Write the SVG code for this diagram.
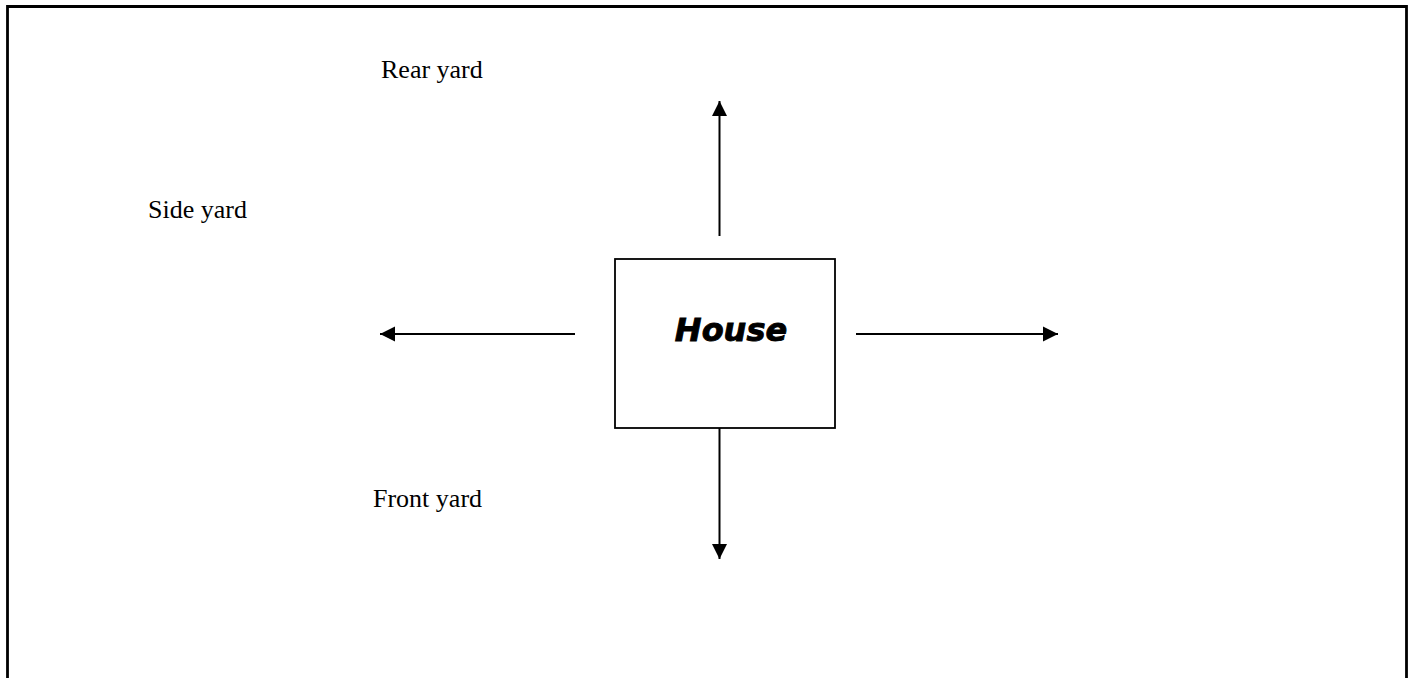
<svg xmlns="http://www.w3.org/2000/svg" width="1410" height="678" viewBox="0 0 1410 678">
<style>
.lbl{font-family:"Liberation Serif","Times New Roman",serif;font-size:26px;fill:#000}
.conn{stroke:#000;stroke-width:2;fill:none}
</style>
<defs>
<marker id="ah" markerUnits="userSpaceOnUse" markerWidth="16" markerHeight="16" viewBox="0 0 16 16" refX="15" refY="8" orient="auto">
<path d="M0,0.5 L15,8 L0,15.5 Z" fill="#000"/>
</marker>
</defs>
<rect width="1410" height="678" fill="#fff"/>
<path d="M7.5,690 V6.5 H1406.5 V690" fill="none" stroke="#000" stroke-width="2.8"/>
<g id="house">
<rect x="615" y="259" width="220" height="169" fill="#fff" stroke="#000" stroke-width="1.8"/>
<text x="731" y="341" text-anchor="middle" font-family="DejaVu Sans, sans-serif" font-weight="bold" font-style="italic" font-size="32" stroke="#000" stroke-width="0.9">House</text>
</g>
<g id="rear-yard"><text class="lbl" x="381" y="78">Rear yard</text></g>
<g id="side-yard"><text class="lbl" x="148" y="218">Side yard</text></g>
<g id="front-yard"><text class="lbl" x="373" y="507">Front yard</text></g>
<g id="connectors">
<line class="conn" x1="719.5" y1="236" x2="719.5" y2="101" marker-end="url(#ah)"/>
<line class="conn" x1="575" y1="334" x2="380" y2="334" marker-end="url(#ah)"/>
<line class="conn" x1="856" y1="334" x2="1058" y2="334" marker-end="url(#ah)"/>
<line class="conn" x1="719.5" y1="428" x2="719.5" y2="559" marker-end="url(#ah)"/>
</g>
</svg>
